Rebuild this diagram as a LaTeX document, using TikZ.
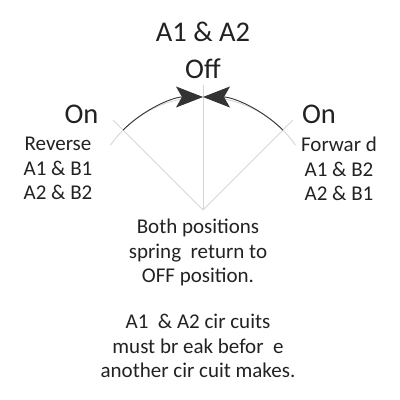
\documentclass[tikz,border=0pt]{standalone}
\usepackage{fontspec}
\setmainfont{Carlito}
\usetikzlibrary{arrows.meta,positioning}
\definecolor{guidegray}{HTML}{D6D6D6}
\definecolor{arcink}{HTML}{333333}
\definecolor{labelink}{HTML}{222222}
\tikzset{
  guideline/.style={draw=guidegray,line width=0.9pt},
  swingarc/.style={draw=arcink,line width=0.9pt},
  swingarrow/.style={swingarc,-{Stealth[length=27pt,width=21pt,inset=6pt]}},
  biglabel/.style={text=labelink,font=\fontsize{28.5}{32}\selectfont,inner sep=0pt},
  smalllabel/.style={
    text=labelink,
    align=center,
    inner sep=0pt,
    font=\fontsize{21}{24.5}\selectfont
  }
}
\begin{document}
\begin{tikzpicture}[x=1pt,y=1pt]
\useasboundingbox (-203,-190) rectangle (197,210);
\coordinate (pivot) at (0,0);
% guide lines
\draw[guideline] (pivot) -- (135:127);
\draw[guideline] (pivot) -- (90:125);
\draw[guideline] (pivot) -- (45:127);
\draw[guideline] (145:113) arc[start angle=145,end angle=35,radius=113];
% spring return arcs
\draw[swingarrow] (135:113) arc[start angle=135,end angle=90,radius=113];
\draw[swingarrow] (45:113) arc[start angle=45,end angle=90,radius=113];
% labels
\node[biglabel] (offtitle) at (0,178) {A1 \& A2};
\node[biglabel] (offstate) at (0,141) {Off};
\node[biglabel] (lefton) at (-121.5,96) {On};
\node[biglabel] (righton) at (116,96) {On};
\node[smalllabel,anchor=north] (reverse) at (-145,73) {Reverse\\A1 \& B1\\A2 \& B2};
\node[smalllabel,anchor=north] (forward) at (136,73) {Forwar d\\A1 \& B2\\A2 \& B1};
\node[smalllabel,anchor=north] (springnote) at (-5,-9) {Both positions\\spring\ \ return to\\OFF position.};
\node[smalllabel,anchor=north] (breaknote) at (-5,-104) {A1\ \ \& A2 cir cuits\\must br eak befor\ \ e\\another cir cuit makes.};
\end{tikzpicture}
\end{document}
